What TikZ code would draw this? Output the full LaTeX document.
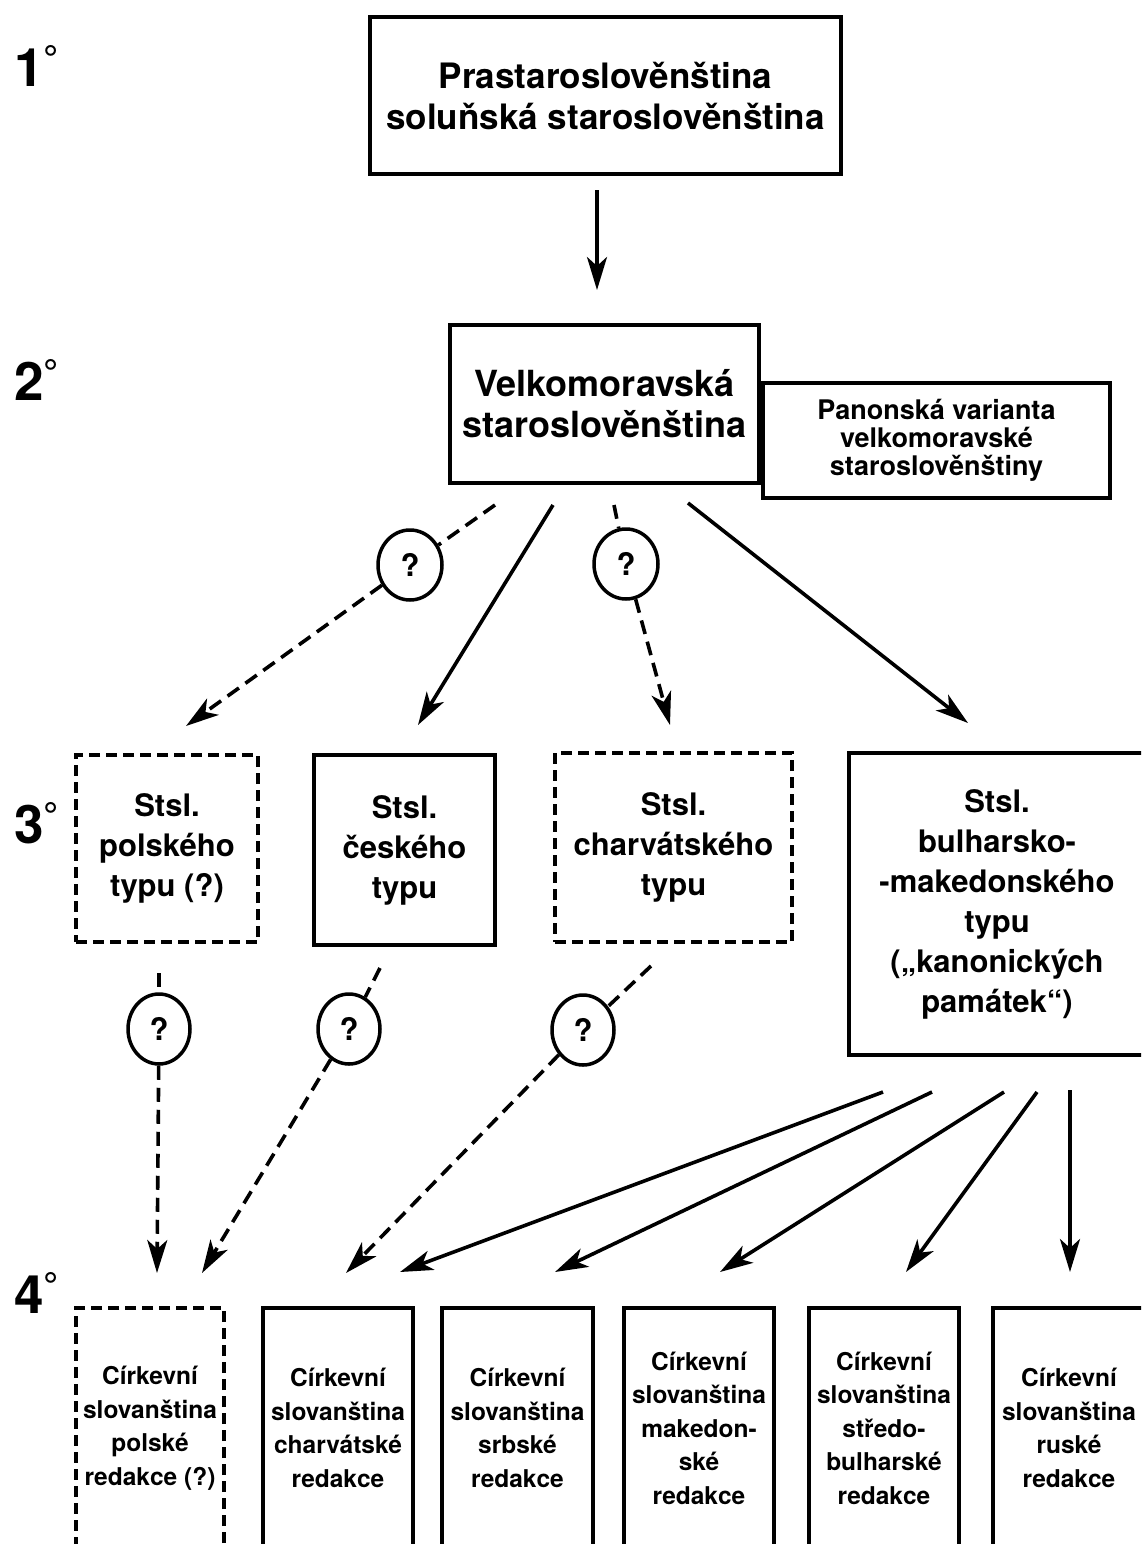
\documentclass[tikz,border=0pt]{standalone}
\usepackage{fontspec}
\setmainfont{TeX Gyre Heros}
\usetikzlibrary{arrows.meta,shapes.geometric}
\newcommand\lvldeg{\raisebox{14pt}{\fontsize{38}{38}\selectfont\bfseries °}}
\tikzset{
  box/.style={draw, line width=4.5pt, inner sep=0pt, align=center},
  dbox/.style={box, line width=4pt, dash pattern=on 11pt off 6pt},
  fA/.style={font=\fontsize{35}{41}\selectfont\bfseries},
  fB/.style={font=\fontsize{36}{41}\selectfont\bfseries},
  fP/.style={font=\fontsize{27}{28}\selectfont\bfseries},
  fC/.style={font=\fontsize{31}{40}\selectfont\bfseries},
  fD/.style={font=\fontsize{24.5}{33.5}\selectfont\bfseries},
  qnode/.style={draw, ellipse, line width=3.5pt, fill=white, minimum width=64pt, minimum height=70pt, inner sep=0pt, font=\fontsize{31}{31}\selectfont\bfseries},
  lvl/.style={anchor=base west, inner sep=0pt, font=\fontsize{53}{53}\selectfont\bfseries},
  arr/.style={line width=3.6pt, -{Stealth[length=33pt,width=20pt,inset=9pt]}},
  darr/.style={arr, dash pattern=on 14pt off 8pt},
  dline/.style={line width=3.6pt, dash pattern=on 14pt off 8pt},
}
\begin{document}
\begin{tikzpicture}[x=1pt,y=-1pt]
\useasboundingbox (0,0) rectangle (1141,1544);
\clip (0,0) rectangle (1141,1544);
\fill[white] (0,0) rectangle (1141,1544);

% level labels
\node[lvl] (l1) at (14,87) {1\lvldeg};
\node[lvl] (l2) at (14,400) {2\lvldeg};
\node[lvl] (l3) at (14,843) {3\lvldeg};
\node[lvl] (l4) at (14,1313) {4\lvldeg};

% level 1 and 2
\node[box,fA,minimum width=471pt,minimum height=157pt] (b1) at (605.5,95.5) {Prastaroslověnština\\soluňská staroslověnština};
\node[box,fB,minimum width=309pt,minimum height=158pt] (b2) at (604.5,404) {Velkomoravská\\staroslověnština};
\node[box,fP,minimum width=347pt,minimum height=115pt] (pan) at (936.5,440.5) {Panonská varianta\\velkomoravské\\staroslověnštiny};

% level 3
\node[dbox,fC,minimum width=182pt,minimum height=187pt] (c1) at (167,848.5) {Stsl.\\polského\\typu (?)};
\node[box,fC,minimum width=181pt,minimum height=190pt] (c2) at (404.5,850) {Stsl.\\českého\\typu};
\node[dbox,fC,minimum width=237pt,minimum height=189pt] (c3) at (673.5,847.5) {Stsl.\\charvátského\\typu};
\node[box,fC,minimum width=296pt,minimum height=302pt] (c4) at (997,904) {Stsl.\\bulharsko-\\-makedonského\\typu\\(„kanonických\\památek“)};

% level 4
\node[dbox,fD,minimum width=148pt,minimum height=240pt] (r1) at (150,1428) {Církevní\\slovanština\\polské\\redakce (?)};
\node[box,fD,minimum width=150pt,minimum height=240pt] (r2) at (338,1428) {Církevní\\slovanština\\charvátské\\redakce};
\node[box,fD,minimum width=151pt,minimum height=240pt] (r3) at (517.5,1428) {Církevní\\slovanština\\srbské\\redakce};
\node[box,fD,minimum width=150pt,minimum height=240pt] (r4) at (699,1428) {Církevní\\slovanština\\makedon-\\ské\\redakce};
\node[box,fD,minimum width=150pt,minimum height=240pt] (r5) at (884,1428) {Církevní\\slovanština\\středo-\\bulharské\\redakce};
\node[box,fD,minimum width=152pt,minimum height=240pt] (r6) at (1069,1428) {Církevní\\slovanština\\ruské\\redakce};

% question circles
\node[qnode] (q1) at (410,565) {?};
\node[qnode] (q2) at (626,564) {?};
\node[qnode,minimum width=62pt,minimum height=70pt] (q3) at (159,1029) {?};
\node[qnode,minimum width=62pt,minimum height=70pt] (q4) at (349,1029) {?};
\node[qnode,minimum width=62pt,minimum height=70pt] (q5) at (583,1030) {?};

% free ends
\coordinate (a1s) at (597,190); \coordinate (a1t) at (597,290);
\coordinate (d1s) at (495,505); \coordinate (d1t) at (186,726);
\coordinate (s1s) at (553,505); \coordinate (s1t) at (418,725);
\coordinate (d2s) at (614,505); \coordinate (d2t) at (670,725);
\coordinate (s2s) at (688,503); \coordinate (s2t) at (968,723);
\coordinate (d3s) at (159,973); \coordinate (d3t) at (157,1273);
\coordinate (d4s) at (380,968); \coordinate (d4t) at (202,1273);
\coordinate (d5s) at (651,966); \coordinate (d5t) at (346,1273);
\coordinate (e1s) at (883,1092); \coordinate (e1t) at (400,1272);
\coordinate (e2s) at (932,1092); \coordinate (e2t) at (555,1272);
\coordinate (e3s) at (1004,1092); \coordinate (e3t) at (720,1272);
\coordinate (e4s) at (1037,1092); \coordinate (e4t) at (906,1272);
\coordinate (e5s) at (1070,1090); \coordinate (e5t) at (1070,1272);

% connectors
\draw[arr] (a1s) -- (a1t);
\draw[dline] (d1s) -- (q1); \draw[darr] (q1) -- (d1t);
\draw[arr] (s1s) -- (s1t);
\draw[dline] (d2s) -- (q2); \draw[darr] (q2) -- (d2t);
\draw[arr] (s2s) -- (s2t);
\draw[dline] (d3s) -- (q3); \draw[darr] (q3) -- (d3t);
\draw[dline] (d4s) -- (q4); \draw[darr] (q4) -- (d4t);
\draw[dline] (d5s) -- (q5); \draw[darr] (q5) -- (d5t);
\draw[arr] (e1s) -- (e1t);
\draw[arr] (e2s) -- (e2t);
\draw[arr] (e3s) -- (e3t);
\draw[arr] (e4s) -- (e4t);
\draw[arr] (e5s) -- (e5t);
\end{tikzpicture}
\end{document}
